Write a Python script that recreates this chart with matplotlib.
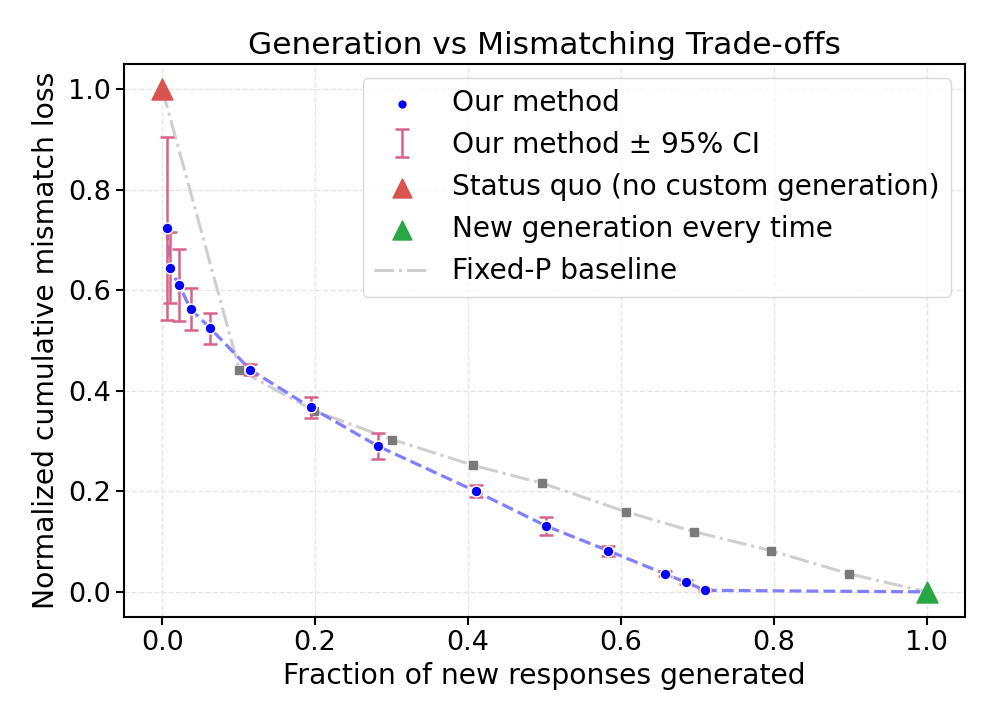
import matplotlib
matplotlib.use("Agg")
import matplotlib.pyplot as plt
import numpy as np

# Our method
ours_x = [0.006, 0.0096, 0.022, 0.037, 0.063, 0.115, 0.194, 0.282, 0.410, 0.502, 0.583, 0.657, 0.685, 0.710]
ours_y = [0.723, 0.645, 0.610, 0.563, 0.524, 0.442, 0.367, 0.290, 0.200, 0.131, 0.082, 0.036, 0.019, 0.003]
ours_ci = [0.182, 0.070, 0.072, 0.042, 0.030, 0.011, 0.021, 0.026, 0.012, 0.017, 0.010, 0.005, 0.004, 0.002]

# Endpoints
status_quo = (0.0, 1.0)
new_every = (1.0, 0.0)

# Fixed-P baseline
fixed_x = [0.101, 0.199, 0.301, 0.406, 0.497, 0.607, 0.695, 0.796, 0.898]
fixed_y = [0.441, 0.360, 0.303, 0.252, 0.216, 0.159, 0.120, 0.082, 0.036]

plt.rcParams['font.family'] = ['DejaVu Sans']
fig = plt.figure(figsize=(9.96, 7.24), dpi=100)
ax = fig.add_axes([0.1245, 0.1478, 0.8445, 0.7638])

ax.grid(True, linestyle='--', color='#e6e6e6', linewidth=1.0, zorder=0)
ax.set_axisbelow(True)

fx = [status_quo[0]] + fixed_x + [new_every[0]]
fy = [status_quo[1]] + fixed_y + [new_every[1]]
ax.plot(fx, fy, linestyle='-.', color='#cfcfcf', linewidth=2.2, label='Fixed-P baseline', zorder=2)
ax.plot(fixed_x, fixed_y, linestyle='none', marker='s', color='#7a7a7a', markersize=6, zorder=3)

ax.plot(ours_x + [new_every[0]], ours_y + [new_every[1]], linestyle='--', color='#7f7fff',
        linewidth=2.3, zorder=3)
eb = ax.errorbar(ours_x, ours_y, yerr=ours_ci, fmt='none', ecolor='#d9628a', elinewidth=1.8,
                 capsize=5, capthick=1.8, label='Our method ± 95% CI', zorder=4)
ax.scatter(ours_x, ours_y, s=60, color='#0000ff', edgecolor='white', linewidth=1.0,
           label='Our method', zorder=5)

ax.scatter([status_quo[0]], [status_quo[1]], marker='^', s=230, color='#d9534f',
           label='Status quo (no custom generation)', zorder=6)
ax.scatter([new_every[0]], [new_every[1]], marker='^', s=230, color='#28a745',
           label='New generation every time', zorder=6)

ax.set_xlim(-0.05, 1.05)
ax.set_ylim(-0.05, 1.05)
ax.set_xticks([0.0, 0.2, 0.4, 0.6, 0.8, 1.0])
ax.set_yticks([0.0, 0.2, 0.4, 0.6, 0.8, 1.0])
ax.tick_params(labelsize=19.5, length=6, width=1.5)
for s in ax.spines.values():
    s.set_linewidth(1.5)

ax.set_xlabel('Fraction of new responses generated', fontsize=20.3, labelpad=4)
ax.set_ylabel('Normalized cumulative mismatch loss', fontsize=20.3, labelpad=6)
ax.set_title('Generation vs Mismatching Trade-offs', fontsize=22.5, pad=7)

handles, labels = ax.get_legend_handles_labels()
order = ['Our method', 'Our method ± 95% CI', 'Status quo (no custom generation)',
         'New generation every time', 'Fixed-P baseline']
hmap = dict(zip(labels, handles))
leg = ax.legend([hmap[k] for k in order], order, loc='upper right', fontsize=20.2,
                frameon=True, markerscale=0.9, handletextpad=0.8)
leg.get_frame().set_edgecolor('#d0d0d0')

fig.savefig('out.png', dpi=100)
